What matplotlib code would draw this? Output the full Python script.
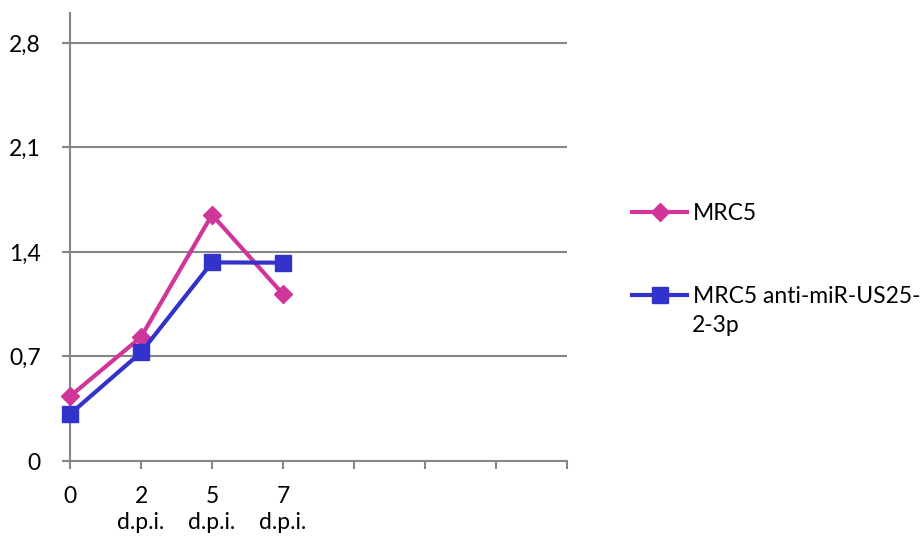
import matplotlib.pyplot as plt

# datos
categorias = ['0', '2\nd.p.i.', '5\nd.p.i.', '7\nd.p.i.', '', '', '', '']
mrc5 = [0.433, 0.83, 1.649, 1.117]
mrc5_anti = [0.314, 0.727, 1.33, 1.328]
yticks = [0, 0.7, 1.4, 2.1, 2.8]
ytick_labels = ['0', '0,7', '1,4', '2,1', '2,8']

plt.rcParams['font.family'] = ['Lato', 'DejaVu Sans']

gris = '#868686'
magenta = '#D0359A'
azul = '#3333CC'
tam = 16.5

fig = plt.figure(figsize=(9.23, 5.40), dpi=100)
ax = fig.add_axes([70 / 923, 1 - 461 / 540, (567 - 70) / 923, (461 - 13) / 540])

x = list(range(len(categorias)))
ax.plot(x[:len(mrc5)], mrc5, color=magenta, linewidth=3, marker='D',
        markersize=9, label='MRC5', zorder=3, clip_on=False)
ax.plot(x[:len(mrc5_anti)], mrc5_anti, color=azul, linewidth=3, marker='s',
        markersize=11, label='MRC5 anti-miR-US25-', zorder=3, clip_on=False)

ax.set_xlim(0, len(categorias) - 1)
ax.set_ylim(0, 3.0)
ax.set_xticks(x)
ax.set_xticklabels(categorias, fontsize=tam, linespacing=1.3)
ax.set_yticks(yticks)
ax.set_yticklabels(ytick_labels, fontsize=tam)

for y in yticks[1:]:
    ax.axhline(y, color=gris, linewidth=1.5, zorder=1)

for lado in ['top', 'right']:
    ax.spines[lado].set_visible(False)
for lado in ['left', 'bottom']:
    ax.spines[lado].set_color(gris)
    ax.spines[lado].set_linewidth(1.5)

ax.tick_params(axis='both', colors=gris, labelcolor='black', length=6,
               width=1.5, direction='out')
ax.tick_params(axis='y', pad=15)
ax.tick_params(axis='x', pad=12)

leg = ax.legend(loc='upper left', bbox_to_anchor=(632 / 923, 1 - 203 / 540),
                bbox_transform=fig.transFigure, frameon=False, fontsize=tam,
                handlelength=2.4, handletextpad=0.25, labelspacing=2.7,
                borderaxespad=0, borderpad=0)
fig.text(692 / 923, 1 - 325 / 540, '2-3p', fontsize=tam, va='center', ha='left')

fig.savefig('out.png', dpi=100)
